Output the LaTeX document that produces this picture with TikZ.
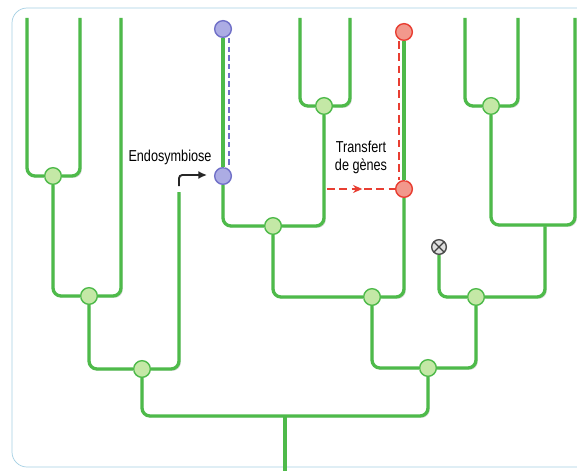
\documentclass[tikz,border=0pt]{standalone}
\usepackage{fontspec}
\newfontfamily\labelfont{Liberation Sans}[FakeStretch=0.8]
\usetikzlibrary{arrows.meta,decorations.markings}

\definecolor{treegreen}{RGB}{78,186,74}
\definecolor{nodegreen}{RGB}{196,232,166}
\definecolor{bluefill}{RGB}{172,172,228}
\definecolor{blueline}{RGB}{112,112,200}
\definecolor{redfill}{RGB}{242,152,140}
\definecolor{redline}{RGB}{232,62,50}
\definecolor{framecol}{RGB}{165,208,228}

\begin{document}
\begin{tikzpicture}[x=0.3mm, y=-0.3mm,
  branch/.style={treegreen, line width=2.8pt, rounded corners=2.4mm,
    preaction={draw=black!22, transform canvas={shift={(0.45mm,-0.45mm)}}}},
  junction/.style={circle, draw=treegreen, fill=nodegreen, line width=1.2pt,
    minimum size=5mm, inner sep=0pt},
  bluenode/.style={junction, draw=blueline, fill=bluefill},
  rednode/.style={junction, draw=redline, fill=redfill},
  lossnode/.style={circle, draw=black!70, fill=black!12, line width=1.2pt,
    minimum size=4.4mm, inner sep=0pt,
    path picture={\draw[black!75, line width=1pt]
      (path picture bounding box.south west) -- (path picture bounding box.north east)
      (path picture bounding box.north west) -- (path picture bounding box.south east);}},
  bluedash/.style={blueline, line width=1.2pt, dash pattern=on 1.6mm off 1mm},
  reddash/.style={redline, line width=1.3pt, dash pattern=on 2.3mm off 1.4mm},
  midarrow/.style={postaction={decorate, decoration={markings,
    mark=at position 0.52 with {\arrow{Stealth[length=2.8mm,width=2.4mm]}}}}},
  endoarrow/.style={black!85, line width=1.6pt, rounded corners=1mm,
    -{Latex[length=2.6mm,width=2.4mm]}},
  labeltext/.style={font=\labelfont\fontsize{13.5}{15.5}\selectfont, inner sep=0pt}]

  \useasboundingbox (0,0) rectangle (577,470);
  \fill[white] (0,0) rectangle (577,470);
  \draw[framecol, line width=0.6pt, rounded corners=4.5mm] (12,8) rectangle (620,467);

  % leaves, junctions and transfer points
  \coordinate (la) at (27,18);
  \coordinate (lb) at (80,18);
  \coordinate (lc) at (121,18);
  \coordinate (ld) at (179,192);
  \coordinate (le) at (300,18);
  \coordinate (lf) at (350,18);
  \coordinate (lg) at (465,18);
  \coordinate (lh) at (518,18);
  \coordinate (li) at (575,18);
  \coordinate (rootbar) at (285,416);
  \coordinate (rootend) at (285,475);
  \coordinate (hub) at (545,225);

  \node[junction] (n1) at (53,176) {};
  \node[junction] (n2) at (89,296) {};
  \node[junction] (n3) at (142,369) {};
  \node[junction] (n4) at (428,368) {};
  \node[junction] (n5) at (372,297) {};
  \node[junction] (n6) at (476,297) {};
  \node[junction] (n7) at (491,106) {};
  \node[junction] (n8) at (273,226) {};
  \node[junction] (n9) at (324,106) {};
  \node[bluenode] (bt) at (223,29) {};
  \node[bluenode] (bb) at (223,176) {};
  \node[rednode] (rt) at (404,32) {};
  \node[rednode] (rb) at (404,189) {};
  \node[lossnode] (loss) at (439,247) {};

  % branches
  \draw[branch] (la) |- (n1) -| (lb);
  \draw[branch] (n1) |- (n2) -| (lc);
  \draw[branch] (n2) |- (n3) -| (ld);
  \draw[branch] (n3) |- (rootbar) -| (n4);
  \draw[branch] (rootbar) -- (rootend);
  \draw[branch] (n5) |- (n4) -| (n6);
  \draw[branch] (n8) |- (n5) -| (rb);
  \draw[branch] (bb) |- (n8) -| (n9);
  \draw[branch] (bt) -- (bb);
  \draw[branch] (le) |- (n9) -| (lf);
  \draw[branch] (rt) -- (rb);
  \draw[branch] (loss) |- (n6) -| (hub);
  \draw[branch] (n7) |- (hub) -| (li);
  \draw[branch] (lg) |- (n7) -| (lh);

  % endosymbiosis
  \draw[bluedash] ([xshift=1.8mm]bt.south) -- ([xshift=1.8mm]bb.north);
  \coordinate (es) at (179,186);
  \coordinate (ee) at (207,175);
  \draw[endoarrow] (es) |- (ee);
  \node[labeltext] (endolabel) at (170,157) {Endosymbiose};

  % gene transfer
  \draw[reddash] ([xshift=-1.5mm]rt.south) -- ([xshift=-1.5mm]rb.north);
  \coordinate (ts) at (327,189);
  \draw[reddash, midarrow] (ts) -- (rb);
  \node[labeltext, align=center] (transferlabel) at (361,157) {Transfert\\de gènes};

\end{tikzpicture}
\end{document}
